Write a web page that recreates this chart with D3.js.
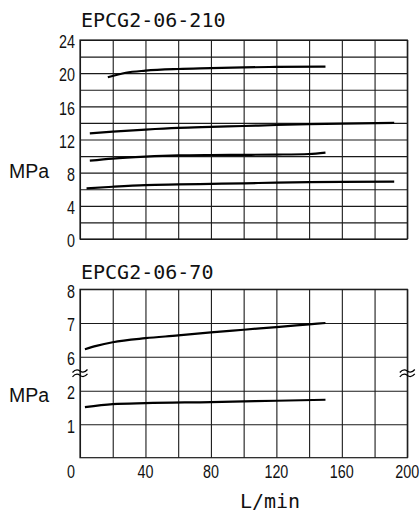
<!DOCTYPE html>
<html><head><meta charset="utf-8">
<script src="https://cdn.jsdelivr.net/npm/d3@7"></script>
<style>
html,body{margin:0;padding:0;background:#fff;}
svg{display:block;}
</style></head>
<body>
<svg id="chart" width="420" height="515"></svg>
<script>
// ---- data ----
const xTicks = [0,20,40,60,80,100,120,140,160,180,200];
const xTickLabels = [0,40,80,120,160,200];
const topYTicks = [0,2,4,6,8,10,12,14,16,18,20,22,24];
const topYLabels = [0,4,8,12,16,20,24];
const botYTicks = [1,2,6,7,8];
const botYLabels = [1,2,6,7,8];
const topTitle = "EPCG2-06-210";
const botTitle = "EPCG2-06-70";
const yUnit = "MPa";
const xUnit = "L/min";

// top chart curves: flow L/min, pressure MPa
const top1Flow = [17,28,40,60,80,100,120,150];
const top1P    = [19.5,20.05,20.3,20.5,20.6,20.7,20.75,20.8];
const top2Flow = [6,20,40,60,80,100,120,140,160,192];
const top2P    = [12.75,12.95,13.2,13.4,13.52,13.63,13.75,13.85,13.92,14.0];
const top3Flow = [6,20,40,60,80,100,120,140,150];
const top3P    = [9.45,9.7,9.93,10.08,10.13,10.15,10.18,10.25,10.42];
const top4Flow = [4,20,40,60,80,100,120,140,160,192];
const top4P    = [6.1,6.3,6.5,6.58,6.65,6.72,6.8,6.86,6.9,6.92];
// bottom chart curves
const bot1Flow = [3,10,20,40,60,80,100,120,140,150];
const bot1P    = [6.22,6.32,6.43,6.55,6.63,6.72,6.8,6.88,6.96,7.0];
const bot2Flow = [3,20,40,80,120,150];
const bot2P    = [1.51,1.6,1.63,1.66,1.7,1.73];

const svg = d3.select("#chart");
const L = 80, R = 407.3;
const x = d3.scaleLinear().domain([0,200]).range([L,R]);
const yTop = d3.scaleLinear().domain([0,24]).range([239,40]);
const yBot = d3.scaleLinear().domain([0,2,6,8]).range([457.7,390.7,356.7,289.3]);

const gridColor = "#1a1a1a";
const monoFont = "'DejaVu Sans Mono', monospace";
const sansFont = "'Liberation Sans', Arial, sans-serif";

function panel(y, yTicks, yLabels, flows, ps, title, titleBaseline, unitBaseline, showX){
  const g = svg.append("g");
  const y0 = y.range()[0], y1 = y.range()[y.range().length-1];
  // vertical grid
  g.append("g").attr("transform",`translate(0,${y0})`)
    .call(d3.axisBottom(x).tickValues(xTicks).tickSize(-(y0-y1)).tickFormat(""))
    .call(a=>{a.select(".domain").remove(); a.selectAll("line").attr("stroke",gridColor).attr("stroke-width",1.1);});
  // horizontal grid
  g.append("g").attr("transform",`translate(${L},0)`)
    .call(d3.axisLeft(y).tickValues(yTicks).tickSize(-(R-L)).tickFormat(""))
    .call(a=>{a.select(".domain").remove(); a.selectAll("line").attr("stroke",gridColor).attr("stroke-width",1.1);});
  // frame
  g.append("rect").attr("x",L).attr("y",y1).attr("width",R-L).attr("height",y0-y1)
    .attr("fill","none").attr("stroke",gridColor).attr("stroke-width",1.2);
  // curves
  const line = d3.line().x(d=>x(d[0])).y(d=>y(d[1])).curve(d3.curveMonotoneX);
  flows.forEach((f,i)=>{
    g.append("path").datum(f.map((v,j)=>[v,ps[i][j]]))
      .attr("d",line).attr("fill","none").attr("stroke","#000")
      .attr("stroke-width",2.2).attr("stroke-linecap","butt");
  });
  // y labels
  g.selectAll(null).data(yLabels).enter().append("text")
    .attr("transform",d=>`translate(75,${y(d)+8.3}) scale(0.82,1)`)
    .attr("text-anchor","end").attr("font-family",sansFont).attr("font-size",17.5)
    .attr("fill","#111").text(d=>d);
  // title
  g.append("text").attr("x",81).attr("y",titleBaseline).attr("font-family",monoFont)
    .attr("font-size",20).attr("fill","#111").text(title);
  // unit
  g.append("text").attr("x",9).attr("y",unitBaseline).attr("font-family",sansFont)
    .attr("font-size",19.5).attr("fill","#111").text(yUnit);
}

panel(yTop, topYTicks, topYLabels, [top1Flow,top2Flow,top3Flow,top4Flow],[top1P,top2P,top3P,top4P], topTitle, 27.3, 178.3);
panel(yBot, botYTicks, botYLabels, [bot1Flow,bot2Flow],[bot1P,bot2P], botTitle, 279, 402.3);

// x labels
svg.selectAll(null).data(xTickLabels).enter().append("text")
  .attr("transform",d=>`translate(${d===0?75:x(d)},478.3) scale(0.82,1)`)
  .attr("text-anchor",d=>d===0?"end":"middle").attr("font-family",sansFont).attr("font-size",17.5)
  .attr("fill","#111").text(d=>d);
svg.append("text").attr("x",270).attr("y",508.3).attr("text-anchor","middle")
  .attr("font-family",monoFont).attr("font-size",20).attr("fill","#111").text(xUnit);

// axis break marks
const breakY = (yBot(2)+yBot(6))/2 - 0.5;
[x(0), x(200)].forEach(cx=>{
  const b = svg.append("g").attr("transform",`translate(${cx},${breakY})`);
  [-2.2,2.2].forEach(off=>{
    b.append("path").attr("d",`M-7.5,${off+1.5} Q-3.75,${off-3} 0,${off} T7.5,${off-1.5}`)
      .attr("fill","none").attr("stroke","#000").attr("stroke-width",1.2);
  });
});
</script>
</body></html>
